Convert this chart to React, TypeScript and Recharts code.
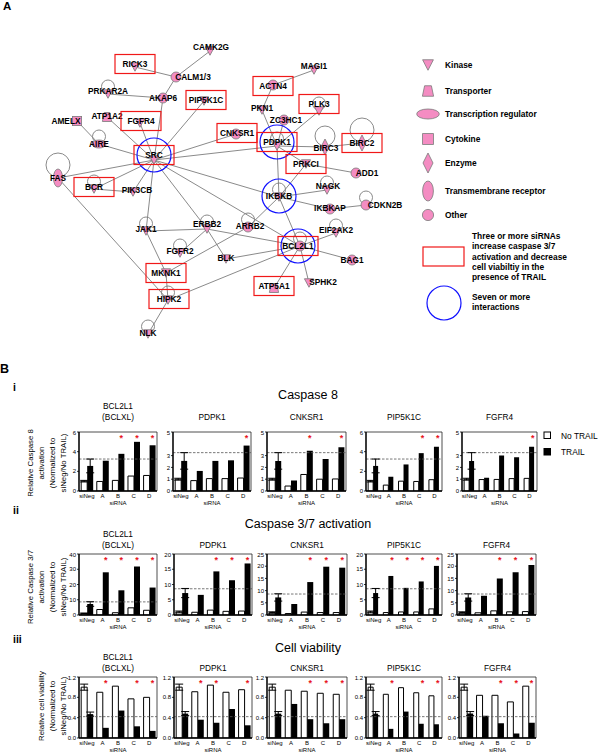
import React from 'react';
import {
  ScatterChart, Scatter, XAxis, YAxis, ComposedChart, Bar, ErrorBar,
  ReferenceLine, ReferenceArea,
} from 'recharts';

const FONT = '"Liberation Sans", Arial, Helvetica, sans-serif';
const PINK = '#f48cc2';
const EDGE = '#7d7d7d';

// ---------------- Panel A data (network) ----------------
const networkNodes = [
  { name: 'CAMK2G', kind: 'kinase', x: 210, y: 51 },
  { name: 'RICK3', kind: 'kinase', x: 135, y: 67 },
  { name: 'CALM1/3', kind: 'other', x: 176, y: 77 },
  { name: 'PRKAR2A', kind: 'kinase', x: 108, y: 94 },
  { name: 'AKAP6', kind: 'other', x: 163, y: 98 },
  { name: 'PIP5K1C', kind: 'kinase', x: 204, y: 101 },
  { name: 'AMELX', kind: 'cytokine', x: 77, y: 121 },
  { name: 'ATP1A2', kind: 'transporter', x: 107, y: 117 },
  { name: 'FGFR4', kind: 'kinase', x: 140, y: 123 },
  { name: 'AIRE', kind: 'transcription', x: 99, y: 144 },
  { name: 'SRC', kind: 'kinase', x: 154, y: 160 },
  { name: 'CNKSR1', kind: 'other', x: 236, y: 134 },
  { name: 'PKN1', kind: 'kinase', x: 262, y: 110 },
  { name: 'ACTN4', kind: 'other', x: 273, y: 85 },
  { name: 'ZC3HC1', kind: 'other', x: 284, y: 120 },
  { name: 'PDPK1', kind: 'kinase', x: 277, y: 146 },
  { name: 'FAS', kind: 'receptor', x: 58, y: 178 },
  { name: 'BCR', kind: 'kinase', x: 94, y: 189 },
  { name: 'PIK3CB', kind: 'kinase', x: 133, y: 192 },
  { name: 'IKBKB', kind: 'kinase', x: 279, y: 197 },
  { name: 'JAK1', kind: 'kinase', x: 146, y: 231 },
  { name: 'ERBB2', kind: 'kinase', x: 207, y: 229 },
  { name: 'ARRB2', kind: 'other', x: 248, y: 227 },
  { name: 'FGFR2', kind: 'kinase', x: 180, y: 253 },
  { name: 'BLK', kind: 'kinase', x: 226, y: 259 },
  { name: 'BCL2L1', kind: 'other', x: 300, y: 246 },
  { name: 'MKNK1', kind: 'kinase', x: 166, y: 273 },
  { name: 'HIPK2', kind: 'kinase', x: 168, y: 300 },
  { name: 'ATP5A1', kind: 'transporter', x: 274, y: 288 },
  { name: 'NLK', kind: 'kinase', x: 148, y: 334 },
  { name: 'MAGI1', kind: 'kinase', x: 314, y: 70 },
  { name: 'PLK3', kind: 'kinase', x: 319, y: 111 },
  { name: 'BIRC3', kind: 'enzyme', x: 325, y: 147 },
  { name: 'BIRC2', kind: 'enzyme', x: 362, y: 143 },
  { name: 'PRKCI', kind: 'kinase', x: 306, y: 164 },
  { name: 'ADD1', kind: 'other', x: 356, y: 173 },
  { name: 'NAGK', kind: 'kinase', x: 327, y: 190 },
  { name: 'IKBKAP', kind: 'other', x: 330, y: 209 },
  { name: 'CDKN2B', kind: 'other', x: 366, y: 205 },
  { name: 'EIF2AK2', kind: 'kinase', x: 336, y: 233 },
  { name: 'BAG1', kind: 'other', x: 352, y: 260 },
  { name: 'SPHK2', kind: 'kinase', x: 309, y: 283 },
];

const screenHits = ['RICK3', 'PIP5K1C', 'FGFR4', 'ACTN4', 'PLK3', 'CNKSR1', 'SRC', 'PDPK1', 'BIRC2', 'BCR', 'PRKCI', 'BCL2L1', 'MKNK1', 'HIPK2', 'ATP5A1'];
const hubs = ['SRC', 'PDPK1', 'IKBKB', 'BCL2L1'];
const selfLoops = ['PRKAR2A', 'AIRE', 'FAS', 'BCR', 'JAK1', 'ERBB2', 'ARRB2', 'FGFR2', 'HIPK2', 'NLK', 'BIRC3', 'BIRC2', 'PLK3', 'NAGK', 'EIF2AK2', 'CDKN2B', 'PDPK1', 'IKBKB', 'BCL2L1'];

const edges: [string, string][] = [
  ['CAMK2G', 'CALM1/3'], ['RICK3', 'CALM1/3'], ['CALM1/3', 'AKAP6'], ['PRKAR2A', 'AKAP6'],
  ['AKAP6', 'SRC'], ['PIP5K1C', 'SRC'], ['AMELX', 'AIRE'], ['ATP1A2', 'SRC'], ['FGFR4', 'SRC'],
  ['AIRE', 'SRC'], ['CNKSR1', 'SRC'], ['PDPK1', 'SRC'], ['FAS', 'SRC'], ['BCR', 'SRC'],
  ['PIK3CB', 'SRC'], ['SRC', 'IKBKB'], ['SRC', 'ERBB2'], ['SRC', 'JAK1'], ['SRC', 'BCL2L1'],
  ['BCR', 'PIK3CB'], ['FAS', 'HIPK2'], ['JAK1', 'ERBB2'], ['JAK1', 'MKNK1'], ['ERBB2', 'BCL2L1'],
  ['ERBB2', 'BLK'], ['FGFR2', 'ERBB2'], ['ARRB2', 'MKNK1'], ['ARRB2', 'IKBKB'], ['BLK', 'BCL2L1'],
  ['HIPK2', 'BCL2L1'], ['HIPK2', 'NLK'], ['MKNK1', 'HIPK2'], ['BCL2L1', 'ATP5A1'], ['BCL2L1', 'IKBKB'],
  ['BCL2L1', 'EIF2AK2'], ['BCL2L1', 'BAG1'], ['BCL2L1', 'SPHK2'], ['IKBKB', 'PDPK1'], ['IKBKB', 'IKBKAP'],
  ['IKBKB', 'NAGK'], ['IKBKB', 'PRKCI'], ['IKBKAP', 'CDKN2B'], ['PDPK1', 'PKN1'], ['PDPK1', 'ZC3HC1'],
  ['PDPK1', 'PLK3'], ['PDPK1', 'BIRC3'], ['BIRC3', 'BIRC2'], ['PDPK1', 'PRKCI'], ['PRKCI', 'ADD1'],
  ['PKN1', 'ACTN4'], ['ACTN4', 'MAGI1'],
];

const legendKinds = [
  { kind: 'kinase', label: 'Kinase' },
  { kind: 'transporter', label: 'Transporter' },
  { kind: 'transcription', label: 'Transcription regulator' },
  { kind: 'cytokine', label: 'Cytokine' },
  { kind: 'enzyme', label: 'Enzyme' },
  { kind: 'receptor', label: 'Transmembrane receptor' },
  { kind: 'other', label: 'Other' },
];
const hitLegendLines = ['Three or more siRNAs', 'increase caspase 3/7', 'activation and decrease', 'cell viabiltiy in the', 'presence of TRAIL'];
const hubLegendLines = ['Seven or more', 'interactions'];

// ---------------- Panel B data (bar charts) ----------------
const siRNA = ['siNeg', 'A', 'B', 'C', 'D'];
const genes = ['BCL2L1', 'PDPK1', 'CNKSR1', 'PIP5K1C', 'FGFR4'];

const casp8NoTrail = [[1.0, 0.97, 1.08, 1.52, 1.58], [1.0, 0.88, 1.05, 1.05, 1.1], [1.0, 0.42, 1.4, 1.0, 1.02], [1.0, 0.6, 1.0, 0.97, 1.15], [1.0, 0.97, 0.98, 1.05, 1.07]];
const casp8Trail = [[2.55, 3.08, 3.78, 5.0, 4.65], [2.55, 1.7, 2.55, 2.6, 3.85], [2.55, 0.9, 3.42, 2.72, 3.7], [2.55, 1.45, 2.7, 3.85, 4.5], [2.55, 1.12, 3.0, 2.87, 3.75]];
const casp8Stars = [['B', 'C', 'D'], ['D'], ['B', 'D'], ['C', 'D'], ['D']];
const casp8SiNegErr = [0.08, 0.7];
const casp8YMax = [6, 5, 5, 6, 5];
const casp8Threshold = 3.25;

const casp37NoTrail = [[1.0, 3.6, 1.5, 4.7, 3.1], [1.0, 0.9, 1.6, 1.2, 1.3], [1.0, 0.6, 1.2, 1.0, 1.0], [1.0, 0.8, 1.0, 1.0, 2.0], [1.0, 0.9, 1.7, 1.3, 1.4]];
const casp37Trail = [[7.2, 28, 16.2, 31.8, 18], [7.2, 6.6, 14.3, 11.4, 16.9], [7.2, 4.5, 13.5, 19.8, 19.4], [7.2, 12.8, 8.9, 11.0, 16.1], [7.2, 7.9, 15.0, 17.5, 20.5]];
const casp37Stars = [['A', 'B', 'C', 'D'], ['B', 'C', 'D'], ['B', 'C', 'D'], ['A', 'B', 'C', 'D'], ['B', 'C', 'D']];
const casp37SiNegErr = [0.3, 1.5];
const casp37YMax = [40, 20, 25, 20, 25];
const casp37Threshold = 8.6;

const viabNoTrail = [[1.0, 0.9, 1.02, 0.77, 0.8], [1.0, 0.91, 1.04, 0.9, 0.95], [1.0, 0.94, 0.92, 0.88, 0.86], [1.0, 0.86, 0.99, 0.89, 0.83], [1.0, 0.84, 0.84, 0.71, 1.02]];
const viabTrail = [[0.47, 0.2, 0.54, 0.23, 0.14], [0.48, 0.36, 0.3, 0.57, 0.25], [0.48, 0.67, 0.37, 0.29, 0.37], [0.48, 0.18, 0.52, 0.28, 0.27], [0.48, 0.44, 0.29, 0.09, 0.3]];
const viabStars = [['A', 'C', 'D'], ['A', 'B', 'D'], ['B', 'C', 'D'], ['A', 'C', 'D'], ['B', 'C', 'D']];
const viabSiNegErr = [0.06, 0.04];
const viabYMax = [1.2, 1.2, 1.2, 1.2, 1.2];
const viabThreshold = 0.42;

// ---------------- layout / style (not data) ----------------
const labelOffsets: Record<string, [number, number]> = {
  CAMK2G: [1, -4], RICK3: [0, -3], 'CALM1/3': [17, 0], PRKAR2A: [0, -3], PIP5K1C: [2, -1],
  AMELX: [-11, 0], ATP1A2: [0, -1], FGFR4: [1, -2], SRC: [0, -5], CNKSR1: [1, -1], PKN1: [0, -2],
  ACTN4: [0, 1], ZC3HC1: [2, 0], PDPK1: [0, -4], BCR: [0, -2], PIK3CB: [4, -2], IKBKB: [0, -1],
  JAK1: [0, -2], ERBB2: [0, -5], ARRB2: [2, -1], FGFR2: [0, -2], BLK: [0, -1], BCL2L1: [-2, 0],
  HIPK2: [1, -1], ATP5A1: [0, -2], NLK: [0, -1], MAGI1: [0, -4], PLK3: [0, -7], BIRC3: [1, 1],
  ADD1: [11, 0], NAGK: [1, -4], IKBKAP: [0, -1], CDKN2B: [19, 0], EIF2AK2: [0, -3], SPHK2: [14, -1],
};
const loopRadius: Record<string, number> = { FAS: 12, BIRC3: 10, BIRC2: 12 };
const legendYs = [65, 91, 114, 139, 163, 191, 215];

const rows = [
  {
    title: 'Caspase 8', roman: 'i', romanY: 391, titleY: 399, geneY: 420, plotTop: 432, plotH: 58,
    lefts: [79, 173, 267, 366, 462], rights: [157, 251, 346, 442, 537],
    yLabel: ['Relative Caspase 8', 'activation', '(Normalized to', 'siNeg/No TRAIL)'], yLabelX: [30, 41, 52.5, 63.5], yLabelC: 463,
    noTrail: casp8NoTrail, trail: casp8Trail, stars: casp8Stars, err: casp8SiNegErr, yMax: casp8YMax, thr: casp8Threshold,
  },
  {
    title: 'Caspase 3/7 activation', roman: 'ii', romanY: 514, titleY: 528, geneY: 548, plotTop: 554, plotH: 60,
    lefts: [79, 174, 267, 366, 457], rights: [157, 252, 347, 442, 536],
    yLabel: ['Relative Caspase 3/7', 'activation', '(Normalized to', 'siNeg/No TRAIL)'], yLabelX: [30, 41, 52.5, 63.5], yLabelC: 587,
    noTrail: casp37NoTrail, trail: casp37Trail, stars: casp37Stars, err: casp37SiNegErr, yMax: casp37YMax, thr: casp37Threshold,
  },
  {
    title: 'Cell viability', roman: 'iii', romanY: 643, titleY: 652, geneY: 670.5, plotTop: 677, plotH: 60,
    lefts: [79, 174, 267, 366, 459], rights: [157, 252, 347, 442, 536],
    yLabel: ['Relative cell viability', '(Normalized to', 'siNeg/No TRAIL)'], yLabelX: [41, 52, 63], yLabelC: 706,
    noTrail: viabNoTrail, trail: viabTrail, stars: viabStars, err: viabSiNegErr, yMax: viabYMax, thr: viabThreshold,
  },
];

// ---------------- components ----------------
function NodeIcon({ kind, cx, cy, big }: { kind: string; cx: number; cy: number; big?: boolean }) {
  const common = { fill: PINK, stroke: '#7a7a7a', strokeWidth: 0.8 };
  switch (kind) {
    case 'kinase': {
      const w = big ? 5.4 : 4.6, h = big ? 10.5 : 8.5;
      return <polygon points={`${cx - w},${cy - h / 2} ${cx + w},${cy - h / 2} ${cx},${cy + h / 2}`} {...common} />;
    }
    case 'transporter': {
      const wt = big ? 3.4 : 2.8, wb = big ? 5.6 : 4.6, h = big ? 10.5 : 9;
      return <polygon points={`${cx - wt},${cy - h / 2} ${cx + wt},${cy - h / 2} ${cx + wb},${cy + h / 2} ${cx - wb},${cy + h / 2}`} {...common} />;
    }
    case 'transcription':
      return <ellipse cx={cx} cy={cy} rx={big ? 11.3 : 7} ry={big ? 5 : 4} {...common} />;
    case 'cytokine': {
      const s = big ? 5.4 : 4.6;
      return <rect x={cx - s} y={cy - s} width={2 * s} height={2 * s} {...common} />;
    }
    case 'enzyme': {
      const w = big ? 5 : 4, h = big ? 10 : 8;
      return <polygon points={`${cx},${cy - h} ${cx + w},${cy} ${cx},${cy + h} ${cx - w},${cy}`} {...common} />;
    }
    case 'receptor':
      return <ellipse cx={cx} cy={cy} rx={big ? 5.4 : 4.6} ry={big ? 10 : 9} {...common} />;
    default:
      return <circle cx={cx} cy={cy} r={big ? 5.6 : 5} {...common} />;
  }
}

const emptyShape = () => <g />;

function NetworkNode(props: any) {
  const { cx, cy, payload } = props;
  if (!payload || !isFinite(cx) || !isFinite(cy)) return <g />;
  const [dx, dy] = labelOffsets[payload.name] || [0, 0];
  const lx = cx + dx, ly = cy + dy;
  const hasLoop = selfLoops.includes(payload.name);
  const lr = loopRadius[payload.name] || 6.5;
  return (
    <g>
      {hasLoop && <circle cx={cx} cy={cy - lr - 1} r={lr} fill="none" stroke={EDGE} strokeWidth={0.9} />}
      <NodeIcon kind={payload.kind} cx={cx} cy={cy} />
      {hubs.includes(payload.name) && <circle cx={lx} cy={ly} r={17} fill="none" stroke="#1010ff" strokeWidth={1.2} />}
      {screenHits.includes(payload.name) && <rect x={lx - 20} y={ly - 9.5} width={40} height={19} fill="none" stroke="#f01818" strokeWidth={1.2} />}
      <text x={lx} y={ly} textAnchor="middle" dominantBaseline="central" fontSize={8.3} fontWeight="bold" fontFamily={FONT} fill="#000">{payload.name}</text>
    </g>
  );
}

function Network() {
  const byName: Record<string, { x: number; y: number }> = {};
  networkNodes.forEach((n) => { byName[n.name] = n; });
  return (
    <div style={{ position: 'absolute', left: 0, top: 0 }}>
      <ScatterChart width={600} height={400} margin={{ top: 0, right: 0, bottom: 0, left: 0 }}>
        <XAxis type="number" dataKey="x" domain={[0, 600]} hide allowDataOverflow />
        <YAxis type="number" dataKey="y" domain={[0, 400]} reversed hide allowDataOverflow />
        {edges.map(([a, b], i) => (
          <Scatter
            key={'e' + i}
            data={[{ x: byName[a].x, y: byName[a].y }, { x: byName[b].x, y: byName[b].y }]}
            line={{ stroke: EDGE, strokeWidth: 0.9 }}
            shape={emptyShape}
            isAnimationActive={false}
          />
        ))}
        <Scatter data={networkNodes} shape={NetworkNode} isAnimationActive={false} />
      </ScatterChart>
    </div>
  );
}

const StarShape = (p: any) => {
  if (!p || !p.payload || p.payload.star == null || !isFinite(p.cx) || !isFinite(p.cy)) return <g />;
  return (
    <text x={p.cx + 3.3} y={p.cy + 4.5} textAnchor="middle" fontSize={9} fontWeight="bold" fill="#e8141c" fontFamily={FONT}>*</text>
  );
};

function ticksFor(yMax: number) {
  if (yMax === 6) return [0, 1, 2, 3, 4, 5, 6];
  if (yMax === 5) return [0, 1, 2, 3, 4, 5];
  if (yMax === 40) return [0, 10, 20, 30, 40];
  if (yMax === 20) return [0, 5, 10, 15, 20];
  if (yMax === 25) return [0, 5, 10, 15, 20, 25];
  return [0, 0.4, 0.8, 1.2];
}

function MiniChart({ row, gi }: { row: any; gi: number }) {
  const YW = 24;
  const left = row.lefts[gi];
  const pw = row.rights[gi] - left;
  const yMax = row.yMax[gi];
  const stars: string[] = row.stars[gi];
  const data = siRNA.map((s, i) => ({
    name: s,
    noTrail: row.noTrail[gi][i],
    trail: row.trail[gi][i],
    errNo: i === 0 ? row.err[0] : null,
    errTr: i === 0 ? row.err[1] : null,
    star: stars.includes(s) ? yMax * 0.92 : null,
  }));
  const fmt = yMax < 2 ? (v: number) => v.toFixed(1) : (v: number) => String(v);
  return (
    <div style={{ position: 'absolute', left: left - YW, top: row.plotTop - 2 }}>
      <ComposedChart
        width={YW + pw + 3}
        height={2 + row.plotH + 15}
        data={data}
        margin={{ top: 2, right: 3, bottom: 0, left: 0 }}
        barCategoryGap="14%"
        barGap={0}
      >
        <XAxis
          dataKey="name"
          height={14}
          interval={0}
          tickLine={false}
          tickSize={3}
          tickMargin={0}
          axisLine={{ stroke: '#000', strokeWidth: 1.3 }}
          tick={{ fontSize: 6, fill: '#000', fontFamily: FONT }}
          label={{ value: 'siRNA', position: 'insideBottom', offset: 0, fontSize: 6, fill: '#000', fontFamily: FONT }}
        />
        <YAxis
          width={YW}
          type="number"
          domain={[0, yMax]}
          ticks={ticksFor(yMax)}
          allowDataOverflow
          tickFormatter={fmt}
          tickSize={2}
          tickMargin={1}
          axisLine={{ stroke: '#000', strokeWidth: 1.3 }}
          tickLine={{ stroke: '#000', strokeWidth: 0.8 }}
          tick={{ fontSize: 6, fill: '#000', fontFamily: FONT }}
        />
        <ReferenceArea y1={0} y2={yMax} fill="none" stroke="#222" strokeWidth={0.8} />
        <ReferenceLine y={row.thr} stroke="#555" strokeWidth={0.8} strokeDasharray="2.5 1.5" />
        <Bar dataKey="noTrail" fill="#fff" stroke="#000" strokeWidth={1} isAnimationActive={false}>
          <ErrorBar dataKey="errNo" width={4} stroke="#000" strokeWidth={1} direction="y" />
        </Bar>
        <Bar dataKey="trail" fill="#000" isAnimationActive={false}>
          <ErrorBar dataKey="errTr" width={4} stroke="#000" strokeWidth={1} direction="y" />
        </Bar>
        <Scatter dataKey="star" shape={StarShape} isAnimationActive={false} />
      </ComposedChart>
    </div>
  );
}

function Overlay() {
  const t = { fontFamily: FONT, fill: '#000' } as const;
  return (
    <svg width={600} height={754} style={{ position: 'absolute', left: 0, top: 0 }}>
      <text x={3} y={10} fontSize={11.5} fontWeight="bold" {...t}>A</text>
      <text x={0} y={373} fontSize={12.5} fontWeight="bold" {...t}>B</text>
      {/* network legend */}
      {legendKinds.map((l, i) => (
        <g key={l.kind}>
          <NodeIcon kind={l.kind} cx={428} cy={legendYs[i]} big />
          <text x={445} y={legendYs[i]} dominantBaseline="central" fontSize={8.4} fontWeight="bold" {...t}>{l.label}</text>
        </g>
      ))}
      <rect x={423} y={247} width={41} height={19} fill="none" stroke="#f01818" strokeWidth={1.2} />
      {hitLegendLines.map((s, i) => (
        <text key={s} x={472} y={236 + i * 10.3} dominantBaseline="central" fontSize={8.4} fontWeight="bold" {...t}>{s}</text>
      ))}
      <circle cx={444} cy={303} r={17} fill="none" stroke="#1010ff" strokeWidth={1.2} />
      {hubLegendLines.map((s, i) => (
        <text key={s} x={472} y={297 + i * 10.3} dominantBaseline="central" fontSize={8.4} fontWeight="bold" {...t}>{s}</text>
      ))}
      {/* bar legend */}
      <rect x={544} y={432} width={6.5} height={6.5} fill="#fff" stroke="#000" strokeWidth={1} />
      <text x={561} y={435.5} dominantBaseline="central" fontSize={8.4} {...t}>No TRAIL</text>
      <rect x={544} y={448.5} width={6.5} height={6.5} fill="#000" stroke="#000" strokeWidth={1} />
      <text x={561} y={452} dominantBaseline="central" fontSize={8.4} {...t}>TRAIL</text>
      {rows.map((r) => (
        <g key={r.title}>
          <text x={13} y={r.romanY} fontSize={10.5} fontWeight="bold" {...t}>{r.roman}</text>
          <text x={308} y={r.titleY} textAnchor="middle" fontSize={12.5} {...t}>{r.title}</text>
          {r.yLabel.map((s, i) => (
            <text
              key={s}
              x={r.yLabelX[i]}
              y={r.yLabelC}
              transform={`rotate(-90 ${r.yLabelX[i]} ${r.yLabelC})`}
              textAnchor="middle"
              dominantBaseline="central"
              fontSize={7.8}
              {...t}
            >{s}</text>
          ))}
          {genes.map((g, gi) => {
            const cx = (r.lefts[gi] + r.rights[gi]) / 2;
            return g === 'BCL2L1' ? (
              <g key={g}>
                <text x={cx} y={r.geneY - 11} textAnchor="middle" fontSize={8.3} {...t}>BCL2L1</text>
                <text x={cx} y={r.geneY} textAnchor="middle" fontSize={8.3} {...t}>(BCLXL)</text>
              </g>
            ) : (
              <text key={g} x={cx} y={r.geneY} textAnchor="middle" fontSize={8.3} {...t}>{g}</text>
            );
          })}
        </g>
      ))}
    </svg>
  );
}

export default function App() {
  return (
    <div style={{ position: 'absolute', left: 0, top: 0, width: 600, height: 754, background: '#fff', overflow: 'hidden' }}>
      <Overlay />
      <Network />
      {rows.map((r) => genes.map((g, gi) => <MiniChart key={r.title + g} row={r} gi={gi} />))}
    </div>
  );
}
